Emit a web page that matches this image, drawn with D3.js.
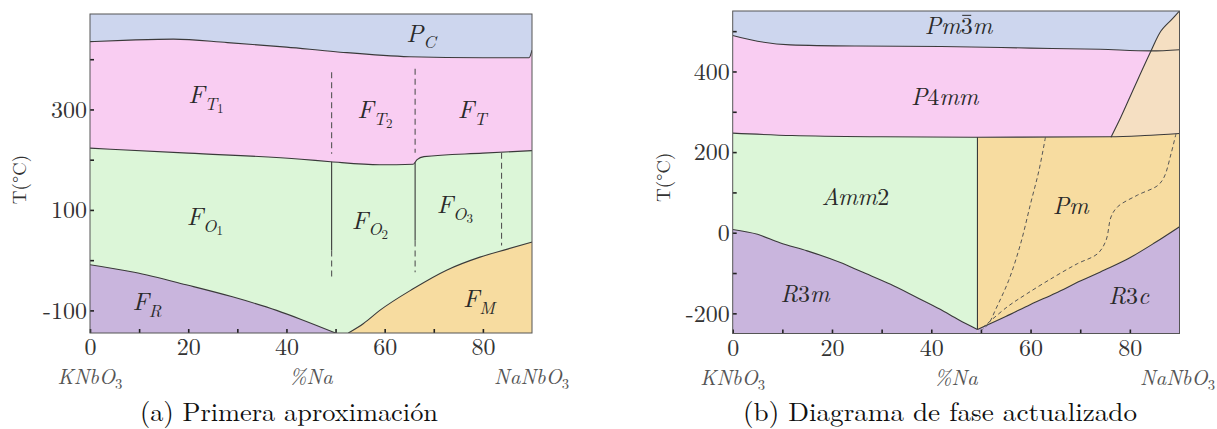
<!DOCTYPE html>
<html><head><meta charset="utf-8">
<script src="https://cdn.jsdelivr.net/npm/d3@7"></script>
<style>
body{margin:0;background:#fff}
svg{display:block}
</style>
</head><body>
<svg id="c" width="1217" height="429"></svg>
<script>
// ---------- data ----------
const xMajor = [0, 20, 40, 60, 80];
const xMinor = [10, 30, 50, 70];
const yMajorA = [-100, 100, 300];
const yMinorA = [0, 200, 400];
const yMajorB = [-200, 0, 200, 400];
const yMinorB = [-100, 100, 300, 500];

// Panel (a): phase boundaries [%Na, T]
const pcLineA = [[0,435],[8,438],[17,440],[28,433],[40,424],[50,415],[65,405],[80,403],[89.4,403],[90,418]];
const ftLineA = [[0,223],[20,213],[43,201],[49,196],[59,190],[65.8,191],[66.6,200],[68,206],[80,213],[90,218]];
const frLineA = [[0,-9],[9,-24],[20,-50],[29,-73],[38,-100],[43,-118],[50,-145]];
const fmLineA = [[52.6,-145],[55.7,-126],[59,-100],[65.8,-57],[72.6,-20],[79.4,6],[85,22],[90,36]];
const solidA = [[49.2,196,19],[66.2,195,39]];
const dashA  = [[49.2,374,212],[49.2,19,-37],[66.2,381,214],[66.2,39,-24],[83.8,214,29]];

// Panel (b)
const pm3mLineB = [[0,489],[5,475],[11.6,466],[25,463],[42,462],[60,458],[74,455],[84.3,451],[90,454]];
const p4mmLineB = [[0,247],[12,241],[30,238],[49.3,237],[76,238],[83,241],[90,246]];
const tanCurveB = [[76.2,237],[78.2,287],[80.9,361],[84.3,452],[86.3,501],[88.5,530],[90,550]];
const r3mLineB = [[0,8],[5,-4],[9.5,-25],[15,-45],[21.7,-74],[26,-97],[31.8,-128],[37,-160],[41.8,-190],[45.5,-216],[49.3,-240]];
const r3cLineB = [[49.3,-240],[55,-208],[60,-178],[65,-150],[70,-120],[75,-92],[80,-62],[85,-25],[90,15]];
const dash1B = [[63,237],[61.7,155],[60,72],[58,-27],[55.6,-118],[52.9,-192],[51.6,-225],[50.3,-240]];
const dash2B = [[89.3,246],[88.3,196],[86.9,138],[85.6,117],[81.5,93],[77.5,64],[76.2,39],[75.2,-19],[73.5,-52],[69.4,-77],[64.7,-110],[59.3,-151],[55.3,-184],[50.6,-233]];
const amPmSplitB = [49.3, 237, -240];

const labelsA = [
  {p:[["P",0],["C",1]], at:[67.4,435]},
  {p:[["F",0],["T",1],["1",2]], at:[23.6,312]},
  {p:[["F",0],["T",1],["2",2]], at:[58.0,282]},
  {p:[["F",0],["T",1]], at:[77.8,282]},
  {p:[["F",0],["O",1],["1",2]], at:[23.4,69]},
  {p:[["F",0],["O",1],["2",2]], at:[57.0,63]},
  {p:[["F",0],["O",1],["3",2]], at:[74.3,93]},
  {p:[["F",0],["R",1]], at:[11.6,-100]},
  {p:[["F",0],["M",1]], at:[79.2,-94]}
];
const labelsB = [
  {p:[["Pm",0],["3",4],["m",0]], at:[45.5,494], bar:2},
  {p:[["P",0],["4",4],["mm",0]], at:[42.7,318]},
  {p:[["Amm",0],["2",4]], at:[24.7,68]},
  {p:[["Pm",0]], at:[68.1,46]},
  {p:[["R",0],["3",4],["m",0]], at:[14.6,-172]},
  {p:[["R",0],["3",4],["c",0]], at:[79.8,-177]}
];
const captions = ["(a) Primera aproximación", "(b) Diagrama de fase actualizado"];
const yTitle = "T(°C)";

// ---------- colours ----------
const C = {blue:"#cdd6ee", pink:"#f9cdf2", green:"#dcf6d8", purple:"#c9b5dd", orange:"#f7dca0", tan:"#f5dfc2", line:"#3a3a3a"};
const FONT = "'Latin Modern Roman', 'Liberation Serif', serif";

const svg = d3.select("#c");

// level: 0 italic main, 1 subscript, 2 sub-subscript, 4 upright main-size digit
function mathText(g, x, y, parts, fs, color){
  const t = g.append("text").attr("x", x).attr("y", y).attr("text-anchor","middle")
    .style("font-family", FONT).attr("font-size", fs).attr("fill", color||"#2a2a2a");
  const off = {0:0, 1:0.25*fs, 2:0.25*fs + 0.15*fs, 4:0};
  const size = {0:fs, 1:0.7*fs, 2:0.52*fs, 4:fs};
  let prev = 0;
  parts.forEach(([s, lv]) => {
    const upright = /^[0-9]/.test(s);
    t.append("tspan").attr("dy", off[lv]-off[prev]).attr("font-size", size[lv])
      .style("font-style", upright ? "normal" : "italic").style("font-family", FONT).text(s);
    prev = lv;
  });
  return t;
}

function axes(g, x, y, yMajor, yMinor, x0, x1, y0, y1){
  const xAll = xMajor.concat(xMinor).sort((a,b)=>a-b);
  const yAll = yMajor.concat(yMinor).sort((a,b)=>a-b);
  const ax = g.append("g").attr("transform",`translate(0,${y0})`)
    .call(d3.axisBottom(x).tickValues(xAll).tickSize(-4).tickPadding(5)
      .tickFormat(d => xMajor.includes(d) ? d : ""));
  const ay = g.append("g").attr("transform",`translate(${x0},0)`)
    .call(d3.axisLeft(y).tickValues(yAll).tickSize(-4).tickPadding(3)
      .tickFormat(d => yMajor.includes(d) ? d : ""));
  [ax, ay].forEach(a => {
    a.select(".domain").remove();
    a.selectAll(".tick line").attr("stroke","#222").attr("stroke-width",1.6);
    a.selectAll(".tick text").attr("font-size",24).attr("fill","#333").style("font-family", FONT);
  });
  g.append("rect").attr("x",x0).attr("y",y1).attr("width",x1-x0).attr("height",y0-y1)
    .attr("fill","none").attr("stroke","#555").attr("stroke-width",1);
}

function bottomLabels(g, x, y0){
  const fs = 21;
  mathText(g, x(0), y0+51, [["KNbO",0],["3",1]], fs, "#555");
  mathText(g, x(45), y0+51, [["%Na",0]], fs, "#555");
  const t = mathText(g, x(83.5)-6, y0+51, [["NaNbO",0],["3",1]], fs, "#555");
  t.attr("text-anchor","start");
  const bb = t.node().getBBox();
  if (bb.x + bb.width > 1215) t.attr("x", x(83.5)-6 - (bb.x + bb.width - 1215));
}

function panelA(){
  const x = d3.scaleLinear([0,90],[90,532]);
  const y = d3.scaleLinear([-145,490],[333,14]);
  const [x0,x1] = x.range(), [y0,y1] = y.range();
  const g = svg.append("g");
  g.append("clipPath").attr("id","clipA").append("rect").attr("x",x0).attr("y",y1).attr("width",x1-x0).attr("height",y0-y1);
  const f = g.append("g").attr("clip-path","url(#clipA)");
  const area = d3.area().x(d=>x(d[0])).y0(y0+2).y1(d=>y(d[1])).curve(d3.curveMonotoneX);
  const line = d3.line().x(d=>x(d[0])).y(d=>y(d[1])).curve(d3.curveMonotoneX);
  f.append("rect").attr("x",x0).attr("y",y1).attr("width",x1-x0).attr("height",y0-y1).attr("fill",C.blue);
  f.append("path").attr("d",area(pcLineA)).attr("fill",C.pink);
  f.append("path").attr("d",area(ftLineA)).attr("fill",C.green);
  f.append("path").attr("d",area(frLineA)).attr("fill",C.purple);
  f.append("path").attr("d",area(fmLineA)).attr("fill",C.orange);
  [pcLineA, ftLineA, frLineA, fmLineA].forEach(l =>
    f.append("path").attr("d",line(l)).attr("fill","none").attr("stroke",C.line).attr("stroke-width",1.1));
  solidA.forEach(([xv,a,b]) => f.append("line").attr("x1",x(xv)).attr("x2",x(xv)).attr("y1",y(a)).attr("y2",y(b))
    .attr("stroke",C.line).attr("stroke-width",1.1));
  dashA.forEach(([xv,a,b]) => f.append("line").attr("x1",x(xv)).attr("x2",x(xv)).attr("y1",y(a)).attr("y2",y(b))
    .attr("stroke","#555").attr("stroke-width",1.1).attr("stroke-dasharray","6,4"));
  labelsA.forEach(l => mathText(g, x(l.at[0]), y(l.at[1]), l.p, 25));
  axes(g, x, y, yMajorA, yMinorA, x0, x1, y0, y1);
  bottomLabels(g, x, y0);
  g.append("text").attr("transform",`translate(26,${(y0+y1)/2+6}) rotate(-90)`).attr("text-anchor","middle")
    .style("font-family", FONT).attr("font-size",19).attr("fill","#333").text(yTitle);
  g.append("text").attr("x",289).attr("y",421).attr("text-anchor","middle").attr("font-size",26)
    .style("font-family", FONT).attr("fill","#111").attr("textLength",298).attr("lengthAdjust","spacingAndGlyphs").text(captions[0]);
}

function panelB(){
  const x = d3.scaleLinear([0,90],[732.7,1179.5]);
  const y = d3.scaleLinear([-250,550],[333.5,11]);
  const [x0,x1] = x.range(), [y0,y1] = y.range();
  const g = svg.append("g");
  const defs = g.append("defs");
  defs.append("clipPath").attr("id","clipB").append("rect").attr("x",x0).attr("y",y1).attr("width",x1-x0).attr("height",y0-y1);
  defs.append("clipPath").attr("id","clipBL").append("rect").attr("x",x0).attr("y",y1).attr("width",x(amPmSplitB[0])-x0).attr("height",y0-y1);
  defs.append("clipPath").attr("id","clipBR").append("rect").attr("x",x(amPmSplitB[0])).attr("y",y1).attr("width",x1-x(amPmSplitB[0])).attr("height",y0-y1);
  const f = g.append("g").attr("clip-path","url(#clipB)");
  const area = d3.area().x(d=>x(d[0])).y0(y0+2).y1(d=>y(d[1])).curve(d3.curveMonotoneX);
  const line = d3.line().x(d=>x(d[0])).y(d=>y(d[1])).curve(d3.curveMonotoneX);
  const lineCR = d3.line().x(d=>x(d[0])).y(d=>y(d[1])).curve(d3.curveCatmullRom);
  f.append("rect").attr("x",x0).attr("y",y1).attr("width",x1-x0).attr("height",y0-y1).attr("fill",C.blue);
  f.append("path").attr("d",area(pm3mLineB)).attr("fill",C.pink);
  f.append("g").attr("clip-path","url(#clipBL)").append("path").attr("d",area(p4mmLineB)).attr("fill",C.green);
  f.append("g").attr("clip-path","url(#clipBR)").append("path").attr("d",area(p4mmLineB)).attr("fill",C.orange);
  f.append("path").attr("d",area(r3mLineB)).attr("fill",C.purple);
  f.append("path").attr("d",area(r3cLineB)).attr("fill",C.purple);
  const lowRight = p4mmLineB.filter(d => d[0] > tanCurveB[0][0]).reverse();
  const tanD = lineCR(tanCurveB) + lowRight.map(d => `L${x(d[0])},${y(d[1])}`).join("") + "Z";
  f.append("path").attr("d",tanD).attr("fill",C.tan);
  [pm3mLineB, p4mmLineB, r3mLineB, r3cLineB].forEach(l =>
    f.append("path").attr("d",line(l)).attr("fill","none").attr("stroke",C.line).attr("stroke-width",1.1));
  f.append("path").attr("d",lineCR(tanCurveB)).attr("fill","none").attr("stroke",C.line).attr("stroke-width",1.1);
  f.append("line").attr("x1",x(amPmSplitB[0])).attr("x2",x(amPmSplitB[0])).attr("y1",y(amPmSplitB[1])).attr("y2",y(amPmSplitB[2]))
    .attr("stroke",C.line).attr("stroke-width",1.1);
  [dash1B, dash2B].forEach(l => f.append("path").attr("d",lineCR(l)).attr("fill","none")
    .attr("stroke","#555").attr("stroke-width",1).attr("stroke-dasharray","4,3"));
  const fsB = 24;
  labelsB.forEach(l => {
    const t = mathText(g, x(l.at[0]), y(l.at[1]), l.p, fsB);
    if (l.bar !== undefined) {
      try {
        const e = t.node().getExtentOfChar(l.bar);
        const by = y(l.at[1]) - 0.76*fsB;
        g.append("line").attr("x1", e.x + 1.5).attr("x2", e.x + e.width - 1.5)
          .attr("y1", by).attr("y2", by).attr("stroke","#2a2a2a").attr("stroke-width",1);
      } catch(err) {}
    }
  });
  axes(g, x, y, yMajorB, yMinorB, x0, x1, y0, y1);
  bottomLabels(g, x, y0);
  g.append("text").attr("transform",`translate(670,${(y0+y1)/2+5}) rotate(-90)`).attr("text-anchor","middle")
    .style("font-family", FONT).attr("font-size",19).attr("fill","#333").text(yTitle);
  g.append("text").attr("x",940).attr("y",421).attr("text-anchor","middle").attr("font-size",26)
    .style("font-family", FONT).attr("fill","#111").attr("textLength",394).attr("lengthAdjust","spacingAndGlyphs").text(captions[1]);
}

panelA();
panelB();
</script>
</body></html>
